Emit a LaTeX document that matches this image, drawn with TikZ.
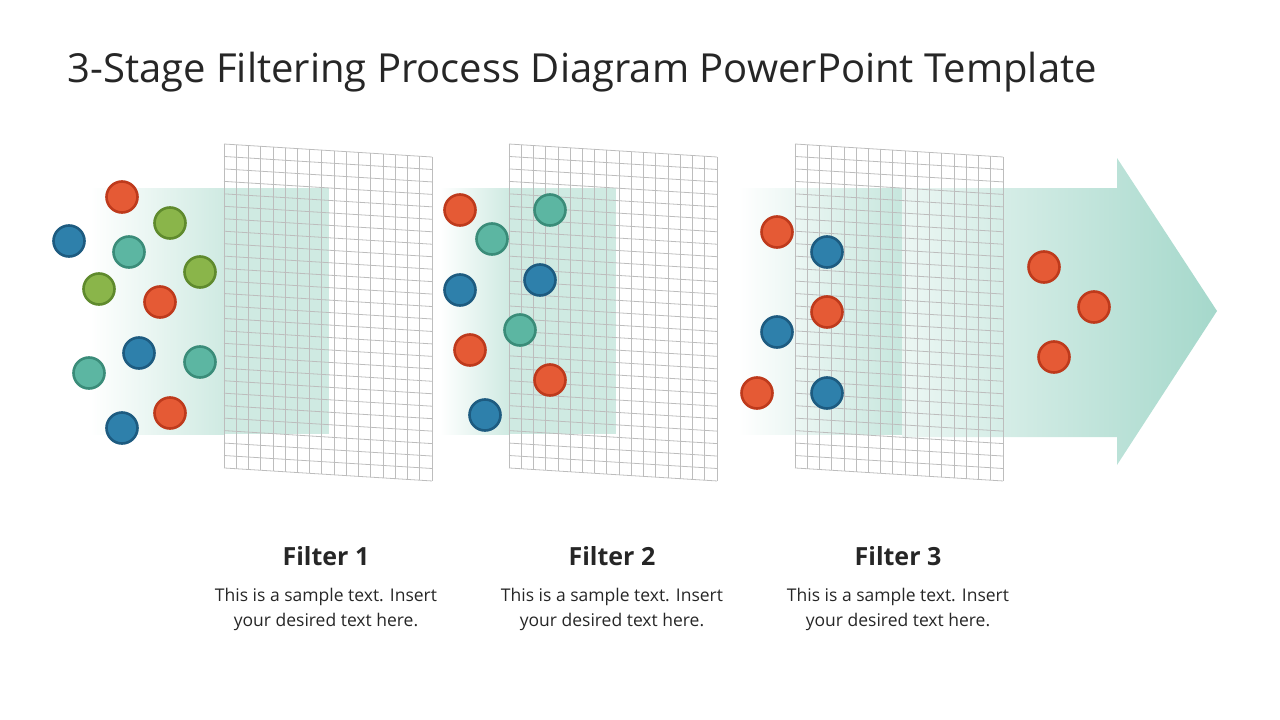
\documentclass[tikz,border=0pt]{standalone}
\usepackage{fontspec}
\setmainfont{Open Sans}
\usepackage{tikz}
\definecolor{txtgray}{HTML}{262626}
\definecolor{mint}{HTML}{CFEAE2}
\definecolor{mintdark}{HTML}{A5D8CB}
\definecolor{gridgray}{HTML}{BDBDBD}
\definecolor{orangeF}{HTML}{E55A35}
\definecolor{orangeB}{HTML}{BE3A1C}
\definecolor{blueF}{HTML}{2E80AB}
\definecolor{blueB}{HTML}{1D5B80}
\definecolor{tealF}{HTML}{5CB6A2}
\definecolor{tealB}{HTML}{3A8C79}
\definecolor{greenF}{HTML}{8AB54A}
\definecolor{greenB}{HTML}{5F8A2D}
\tikzset{
  ball/.style={circle, minimum size=31pt, inner sep=0pt, line width=2.6pt},
  orangeball/.style={ball, fill=orangeF, draw=orangeB},
  blueball/.style={ball, fill=blueF, draw=blueB},
  tealball/.style={ball, fill=tealF, draw=tealB},
  greenball/.style={ball, fill=greenF, draw=greenB},
  gridline/.style={draw=gridgray, line width=0.8pt},
  filtertitle/.style={font=\bfseries\fontsize{25}{30}\selectfont, text=txtgray},
  filterbody/.style={font=\fontsize{17.5}{25}\selectfont, text=txtgray, align=center}
}
\begin{document}
\begin{tikzpicture}[x=1pt, y=-1pt]
  \useasboundingbox (0,0) rectangle (1280,720);

  \node[anchor=base west, font=\fontsize{40}{48}\selectfont, text=txtgray] (title) at (64,82)
    {3-Stage Filtering Process Diagram PowerPoint Template};

  % bands behind the filters
  \shade[left color=white, right color=mint] (90,188) rectangle (224,434);
  \fill[mint] (224,188) rectangle (329,434);
  \shade[left color=white, right color=mint] (440,188) rectangle (509,434);
  \fill[mint] (509,188) rectangle (616,434);
  \shade[left color=white, right color=mint!80!mintdark] (738,188) rectangle (902,434);

  % output arrow
  \shade[left color=mint!40, right color=mintdark]
    (902,188) -- (1117,188) -- (1117,158) -- (1217,311) -- (1117,465) -- (1117,437) -- (902,437) -- cycle;

  % meshes
  \foreach \x in {224,509,795}{
    \foreach \i in {0,...,26}
      \draw[gridline] (\x, 144+12.46*\i) -- (\x+208, 157+12.46*\i);
    \foreach \j in {0,...,17}
      \draw[gridline] (\x+12.235*\j, 144+0.765*\j) -- (\x+12.235*\j, 468+0.765*\j);
  }

  % particles, filter 1
  \node[orangeball] (a1) at (122,197) {};
  \node[blueball]   (a2) at (69,241) {};
  \node[greenball]  (a3) at (170,223) {};
  \node[tealball]   (a4) at (129,252) {};
  \node[greenball]  (a5) at (200,272) {};
  \node[greenball]  (a6) at (99,289) {};
  \node[orangeball] (a7) at (160,302) {};
  \node[blueball]   (a8) at (139,353) {};
  \node[tealball]   (a9) at (89,373) {};
  \node[tealball]   (a10) at (200,362) {};
  \node[orangeball] (a11) at (170,413) {};
  \node[blueball]   (a12) at (122,428) {};

  % particles, filter 2
  \node[orangeball] (b1) at (460,210) {};
  \node[tealball]   (b2) at (550,210) {};
  \node[tealball]   (b3) at (492,239) {};
  \node[blueball]   (b4) at (540,280) {};
  \node[blueball]   (b5) at (460,290) {};
  \node[tealball]   (b6) at (520,330) {};
  \node[orangeball] (b7) at (470,350) {};
  \node[orangeball] (b8) at (550,380) {};
  \node[blueball]   (b9) at (485,415) {};

  % particles, filter 3 and output
  \node[orangeball] (c1) at (777,232) {};
  \node[blueball]   (c2) at (827,252) {};
  \node[orangeball] (c3) at (827,312) {};
  \node[blueball]   (c4) at (777,332) {};
  \node[orangeball] (c5) at (757,393) {};
  \node[blueball]   (c6) at (827,393) {};
  \node[orangeball] (d1) at (1044,267) {};
  \node[orangeball] (d2) at (1094,307) {};
  \node[orangeball] (d3) at (1054,357) {};

  % captions
  \foreach \n/\x in {1/326,2/612,3/898}{
    \node[filtertitle] (ft\n) at (\x,556) {Filter \n};
    \node[filterbody, anchor=north] (fb\n) at (\x,585) {This is a sample text. Insert\\your desired text here.};
  }
\end{tikzpicture}
\end{document}
